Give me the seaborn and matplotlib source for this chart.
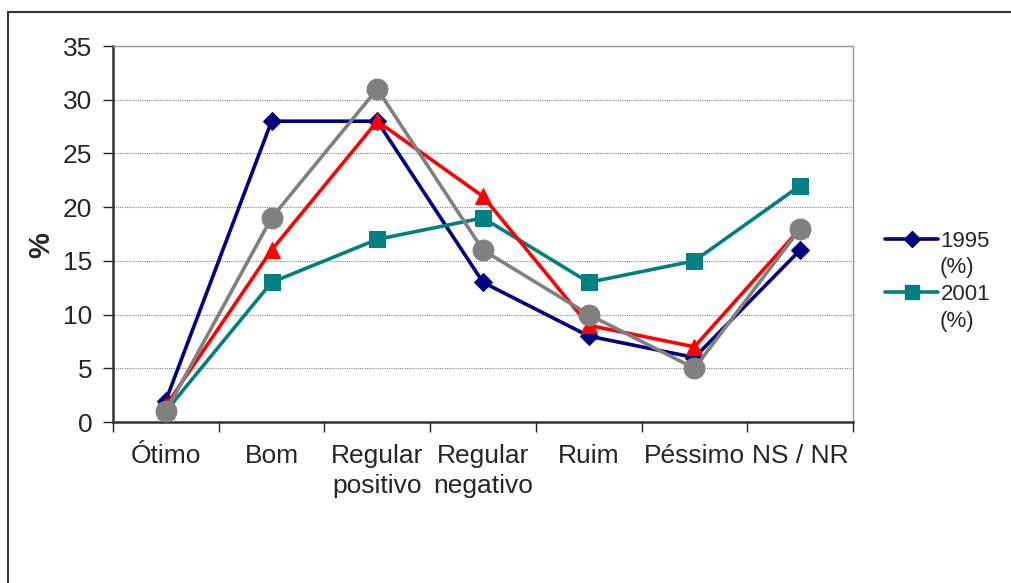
import matplotlib
matplotlib.use("Agg")
import matplotlib.pyplot as plt
from matplotlib.lines import Line2D
import seaborn as sns
import pandas as pd
import numpy as np

categories = ["Ótimo", "Bom", "Regular\npositivo", "Regular\nnegativo", "Ruim", "Péssimo", "NS / NR"]
series_names = ["1995 (%)", "2001 (%)", "2003 (%)", "2006 (%)"]
v1995 = [2, 28, 28, 13, 8, 6, 16]
v2001 = [1, 13, 17, 19, 13, 15, 22]
v2003 = [1.5, 16, 28, 21, 9, 7, 18]
v2006 = [1, 19, 31, 16, 10, 5, 18]
yticks = [0, 5, 10, 15, 20, 25, 30, 35]

colors = ["#000080", "#008080", "#FF0000", "#808080"]
markers = ["D", "s", "^", "o"]
msizes = [9, 11, 11, 15]

sns.set_theme(style="white")
plt.rcParams["font.family"] = ["Liberation Sans", "DejaVu Sans"]

rows = []
for name, vals in zip(series_names, [v1995, v2001, v2003, v2006]):
    for i, v in enumerate(vals):
        rows.append({"series": name, "pos": i, "value": v})
df = pd.DataFrame(rows)

fig = plt.figure(figsize=(10.12, 5.83), dpi=100)
ax = fig.add_axes([113/1012, 1-422/583, (853-113)/1012, (422-46)/583])

for k, name in enumerate(series_names):
    sub = df[df["series"] == name]
    sns.lineplot(data=sub, x="pos", y="value", ax=ax, color=colors[k], marker=markers[k],
                 markersize=msizes[k], markeredgecolor=colors[k], linewidth=2.6,
                 zorder=3 + k, legend=False)

ax.set_xlim(-0.5, 6.5)
ax.set_ylim(0, 35)
ax.set_yticks(yticks)
ax.set_yticklabels([str(t) for t in yticks], fontsize=19)
ax.set_xticks(np.arange(-0.5, 7, 1))
ax.set_xticklabels([])
ax.set_xticks(np.arange(7), minor=True)
ax.set_xticklabels(categories, minor=True, fontsize=19, linespacing=1.3)
ax.tick_params(axis="x", which="minor", length=0, pad=16)
ax.tick_params(axis="x", which="major", length=7, width=1, color="#222222", direction="out", bottom=True)
ax.tick_params(axis="y", length=7, width=1, color="#222222", direction="out", left=True, pad=8)
ax.set_xlabel("")
ax.set_ylabel("%", fontsize=21, fontweight="bold")
ax.yaxis.set_label_coords((55 - 113) / 740, (422 - 245) / 376)

for t in yticks[1:]:
    ax.axhline(t, color="#888888", linestyle=(0, (1, 1)), linewidth=0.8, zorder=1)

for s in ["left", "bottom"]:
    ax.spines[s].set_color("#333333")
    ax.spines[s].set_linewidth(1.8)
for s in ["top", "right"]:
    ax.spines[s].set_color("#999999")
    ax.spines[s].set_linewidth(1.0)

handles = [Line2D([], [], color=colors[k], marker=markers[k], markersize=msizes[k] - 1,
                  linewidth=2.6) for k in range(2)]
leg = fig.legend(handles, ["1995", "2001"], loc="upper left",
                 bbox_to_anchor=(885/1012, 1-231/583), frameon=False, fontsize=16,
                 handlelength=2.4, handletextpad=0.1, labelspacing=1.45, borderpad=0,
                 borderaxespad=0)
fig.text(940/1012, 1-267/583, "(%)", fontsize=16, va="center", ha="left")
fig.text(940/1012, 1-321/583, "(%)", fontsize=16, va="center", ha="left")

fig.add_artist(Line2D([8/1012, 8/1012], [0, 1-12/583], color="#333333", linewidth=1.5,
                      transform=fig.transFigure))
fig.add_artist(Line2D([8/1012, 1], [1-12/583, 1-12/583], color="#333333", linewidth=1.5,
                      transform=fig.transFigure))

fig.savefig("out.png", dpi=100)
